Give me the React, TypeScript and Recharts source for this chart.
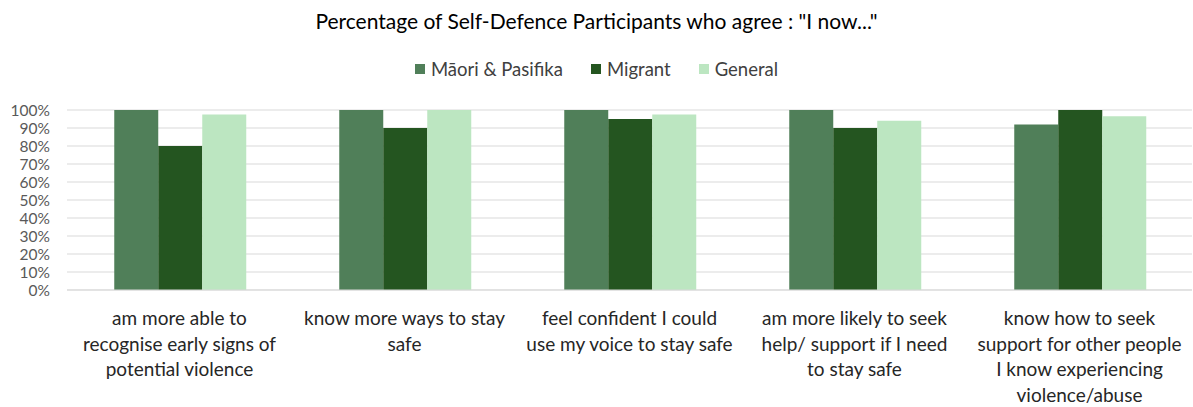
import React from 'react';
import { BarChart, Bar, XAxis, YAxis, CartesianGrid } from 'recharts';

const categories = [
  'am more able to recognise early signs of potential violence',
  'know more ways to stay safe',
  'feel confident I could use my voice to stay safe',
  'am more likely to seek help/ support if I need to stay safe',
  'know how to seek support for other people I know experiencing violence/abuse',
];

// tick labels, broken into lines as in the original
const categoryLines = [
  ['am more able to', 'recognise early signs of', 'potential violence'],
  ['know more ways to stay', 'safe'],
  ['feel confident I could', 'use my voice to stay safe'],
  ['am more likely to seek', 'help/ support if I need', 'to stay safe'],
  ['know how to seek', 'support for other people', 'I know experiencing', 'violence/abuse'],
];

const maoriPasifika = [100, 100, 100, 100, 92];
const migrant = [80, 90, 95, 90, 100];
const general = [97.5, 100, 97.5, 94, 96.5];

const yTicks = [0, 10, 20, 30, 40, 50, 60, 70, 80, 90, 100];

const series = [
  { key: 'maori', name: 'Māori & Pasifika', color: '#507F59' },
  { key: 'migrant', name: 'Migrant', color: '#245520' },
  { key: 'general', name: 'General', color: '#BCE6C1' },
];

const data = categories.map((c, i) => ({
  category: c,
  maori: maoriPasifika[i],
  migrant: migrant[i],
  general: general[i],
}));

const FONT = 'Lato, "Open Sans", sans-serif';

function CategoryTick(props: any) {
  const { x, y, index } = props;
  const lines = categoryLines[index] || [];
  return (
    <text x={x} y={y} textAnchor="middle" fill="#262626" fontSize={19} fontFamily={FONT}>
      {lines.map((line, i) => (
        <tspan key={i} x={x} dy={i === 0 ? 27 : 25.5}>
          {line}
        </tspan>
      ))}
    </text>
  );
}

export default function App() {
  return (
    <div
      style={{
        position: 'absolute',
        left: 0,
        top: 0,
        width: 1193,
        height: 407,
        background: '#fff',
        fontFamily: FONT,
      }}
    >
      <div
        style={{
          position: 'absolute',
          top: 8,
          left: 0,
          width: 1193,
          textAlign: 'center',
          fontSize: 21,
          color: '#000',
        }}
      >
        Percentage of Self-Defence Participants who agree : "I now..."
      </div>
      <div
        style={{
          position: 'absolute',
          top: 58,
          left: 0,
          width: 1193,
          display: 'flex',
          justifyContent: 'center',
          gap: 28,
          fontSize: 18.5,
          color: '#404040',
        }}
      >
        {series.map((s) => (
          <div key={s.key} style={{ display: 'flex', alignItems: 'center' }}>
            <span style={{ width: 10, height: 10, background: s.color, marginRight: 6, display: 'inline-block' }} />
            {s.name}
          </div>
        ))}
      </div>
      <BarChart
        width={1193}
        height={407}
        data={data}
        margin={{ top: 110, right: 1, bottom: 0, left: 0 }}
        barGap={0}
        barCategoryGap="21%"
      >
        <CartesianGrid vertical={false} stroke="#D9D9D9" strokeWidth={1.2} />
        <XAxis
          dataKey="category"
          axisLine={{ stroke: '#D9D9D9' }}
          tickLine={false}
          interval={0}
          height={117}
          tick={<CategoryTick />}
        />
        <YAxis
          domain={[0, 100]}
          ticks={yTicks}
          interval={0}
          tickFormatter={(v) => `${v}%`}
          axisLine={false}
          tickLine={false}
          tickSize={0}
          tickMargin={17}
          width={67}
          tick={{ fill: '#595959', fontSize: 15.5, fontFamily: FONT }}
        />
        {series.map((s) => (
          <Bar key={s.key} dataKey={s.key} name={s.name} fill={s.color} isAnimationActive={false} />
        ))}
      </BarChart>
    </div>
  );
}
